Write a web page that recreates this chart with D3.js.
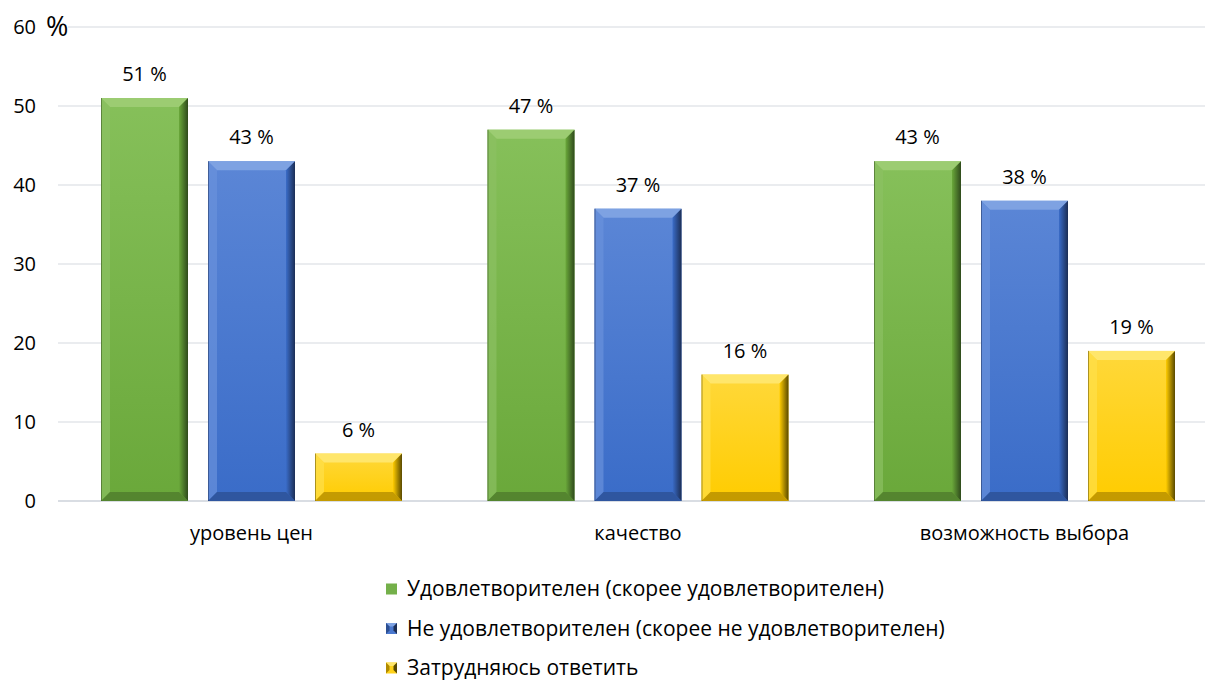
<!DOCTYPE html>
<html><head><meta charset="utf-8">
<script src="https://cdn.jsdelivr.net/npm/d3@7"></script>
<style>body{margin:0;background:#fff;}svg{display:block;font-family:"Open Sans","Noto Sans",sans-serif;}</style>
</head><body>
<svg id="c" width="1205" height="682"></svg>
<script>
const categories = ["уровень цен", "качество", "возможность выбора"];
const seriesNames = ["Удовлетворителен (скорее удовлетворителен)", "Не удовлетворителен (скорее не удовлетворителен)", "Затрудняюсь ответить"];
const satisfied = [51, 47, 43];
const notSatisfied = [43, 37, 38];
const hardToSay = [6, 16, 19];
const yTicks = [0, 10, 20, 30, 40, 50, 60];

const seriesValues = [satisfied, notSatisfied, hardToSay];
const palettes = [
  {main:"#74b04a", top:"#9ccc72", left:"#8cc163", right:"#2f4a1c", bottom:"#4d7a2c", grad:["#86c05a","#6aa83a"]},
  {main:"#4a78cf", top:"#7ea2e2", left:"#6a92dc", right:"#1c2e55", bottom:"#2c4f92", grad:["#5b86d6","#3a6cc8"]},
  {main:"#ffd21a", top:"#ffe66b", left:"#ffe04a", right:"#5a4a00", bottom:"#b08a00", grad:["#ffd83a","#ffcc00"]}
];

const svg = d3.select("#c");
const x0 = d3.scaleBand().domain(categories).range([58.25, 1217.75]).paddingInner(0).paddingOuter(0);
const y = d3.scaleLinear().domain([0, 60]).range([501, 27]);
const barW = 87, step = 107;

const defs = svg.append("defs");
palettes.forEach((p,i)=>{
  const g = defs.append("linearGradient").attr("id","g"+i).attr("x1",0).attr("y1",0).attr("x2",0).attr("y2",1);
  g.append("stop").attr("offset","0%").attr("stop-color",p.grad[0]);
  g.append("stop").attr("offset","100%").attr("stop-color",p.grad[1]);
  const h = defs.append("linearGradient").attr("id","r"+i).attr("x1",0).attr("y1",0).attr("x2",1).attr("y2",0);
  h.append("stop").attr("offset","0%").attr("stop-color",p.grad[1]);
  h.append("stop").attr("offset","100%").attr("stop-color",p.right);
});

// gridlines
svg.append("g").selectAll("line").data(yTicks).join("line")
  .attr("x1", d => d===60 ? 68 : 58).attr("x2", 1205)
  .attr("y1", d => y(d)).attr("y2", d => y(d))
  .attr("stroke", d => d===0 ? "#d9dde3" : "#e3e6ea").attr("stroke-width", d=> d===0?2:1.3);

// y labels
svg.append("g").selectAll("text").data(yTicks).join("text")
  .attr("x", 36).attr("y", d => y(d)+7).attr("text-anchor","end")
  .attr("font-size", 20).attr("fill","#000").text(d=>d);
svg.append("text").attr("x",46).attr("y",y(60)+9).attr("font-size",27).attr("fill","#000").text("%");

// bars
const bev = 9;
categories.forEach((c,ci)=>{
  const cx = x0(c) + x0.bandwidth()/2;
  seriesValues.forEach((vals,si)=>{
    const v = vals[ci];
    const p = palettes[si];
    const xl = cx + (si-1)*step - barW/2, xr = xl + barW;
    const yt = y(v), yb = y(0);
    const b = Math.min(bev, (yb-yt)/3);
    const g = svg.append("g");
    g.append("rect").attr("x",xl).attr("y",yt).attr("width",barW).attr("height",yb-yt).attr("fill","url(#g"+si+")");
    g.append("polygon").attr("points",`${xl},${yt} ${xr},${yt} ${xr-b},${yt+b} ${xl+b},${yt+b}`).attr("fill",p.top);
    g.append("polygon").attr("points",`${xl},${yt} ${xl+b},${yt+b} ${xl+b},${yb-b} ${xl},${yb}`).attr("fill",p.left).attr("opacity",0.7);
    g.append("polygon").attr("points",`${xr},${yt} ${xr},${yb} ${xr-b},${yb-b} ${xr-b},${yt+b}`).attr("fill","url(#r"+si+")");
    g.append("polygon").attr("points",`${xl},${yb} ${xr},${yb} ${xr-b},${yb-b} ${xl+b},${yb-b}`).attr("fill",p.bottom).attr("opacity",0.75);
    g.append("line").attr("x1",xl+0.5).attr("x2",xl+0.5).attr("y1",yt).attr("y2",yb).attr("stroke",p.right).attr("stroke-opacity",0.5);
    svg.append("text").attr("x",(xl+xr)/2).attr("y",yt-17).attr("text-anchor","middle")
      .attr("font-size",20).attr("fill","#000").text(v+" %");
  });
});

// category labels
svg.append("g").selectAll("text").data(categories).join("text")
  .attr("x", d => x0(d)+x0.bandwidth()/2).attr("y", 540).attr("text-anchor","middle")
  .attr("font-size",20).attr("fill","#000").text(d=>d);

// legend
const leg = svg.append("g");
seriesNames.forEach((n,i)=>{
  const ly = 589 + i*39.5;
  const p = palettes[i];
  const s = 11, lx = 386, ty = ly - s/2;
  leg.append("rect").attr("x",lx).attr("y",ty).attr("width",s).attr("height",s).attr("fill",p.main);
  if (i>0) {
    const b2 = 3.5;
    leg.append("polygon").attr("points",`${lx},${ty} ${lx+s},${ty} ${lx+s-b2},${ty+b2} ${lx+b2},${ty+b2}`).attr("fill",p.top);
    leg.append("polygon").attr("points",`${lx+s},${ty} ${lx+s},${ty+s} ${lx+s-b2},${ty+s-b2} ${lx+s-b2},${ty+b2}`).attr("fill",p.right);
    leg.append("polygon").attr("points",`${lx},${ty} ${lx+b2},${ty+b2} ${lx+b2},${ty+s-b2} ${lx},${ty+s}`).attr("fill",p.bottom);
  }
  leg.append("text").attr("x",407).attr("y",ly+7).attr("font-size",21).attr("fill","#000").text(n);
});
</script>
</body></html>
